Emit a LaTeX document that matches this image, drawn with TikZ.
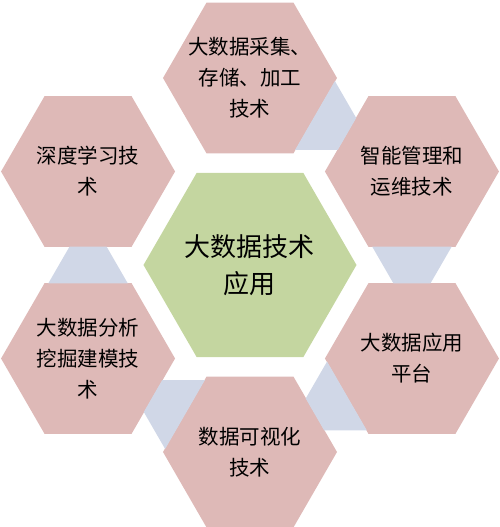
\documentclass[tikz,border=0pt]{standalone}
\usepackage{fontspec}
\setmainfont{Noto Sans CJK SC}
\usetikzlibrary{shapes.geometric,calc}
\definecolor{hexpink}{RGB}{222,185,183}
\definecolor{hexgreen}{RGB}{196,214,160}
\definecolor{linkblue}{RGB}{208,215,231}
\tikzset{
  hexbox/.style={regular polygon, regular polygon sides=6, minimum size=174pt,
    inner sep=-30pt, fill=hexpink, align=center, font=\fontsize{20.5}{31}\selectfont},
  linkbox/.style={trapezium, trapezium angle=60, minimum width=80pt,
    minimum height=30pt, inner sep=1pt, fill=linkblue}
}
\begin{document}
\begin{tikzpicture}[x=1pt,y=1pt]
      \useasboundingbox (-250,-262) rectangle (250,265);

      \node[hexbox, fill=hexgreen, minimum size=213pt,
        font=\fontsize{26}{37}\selectfont] (core) at (0,0) {大数据技术\\应用};

      \node[hexbox] (collect) at (90:187) {大数据采集、\\存储、加工\\技术};
      \node[hexbox] (manage) at (30:187) {智能管理和\\运维技术};
      \node[hexbox] (platform) at (-30:187) {大数据应用\\平台};
      \node[hexbox] (visual) at (-90:187) {数据可视化\\技术};
      \node[hexbox] (mining) at (-150:187) {大数据分析\\挖掘建模技\\术};
      \node[hexbox] (deep) at (150:187) {深度学习技\\术};

      \node[linkbox, rotate=240] (link1) at ($(collect)!0.5!(manage)$) {};
      \node[linkbox, rotate=180] (link2) at ($(manage)!0.5!(platform)$) {};
      \node[linkbox, rotate=120] (link3) at ($(platform)!0.5!(visual)$) {};
      \node[linkbox, rotate=60] (link4) at ($(visual)!0.5!(mining)$) {};
      \node[linkbox] (link5) at ($(mining)!0.5!(deep)$) {};

    \end{tikzpicture}
\end{document}
